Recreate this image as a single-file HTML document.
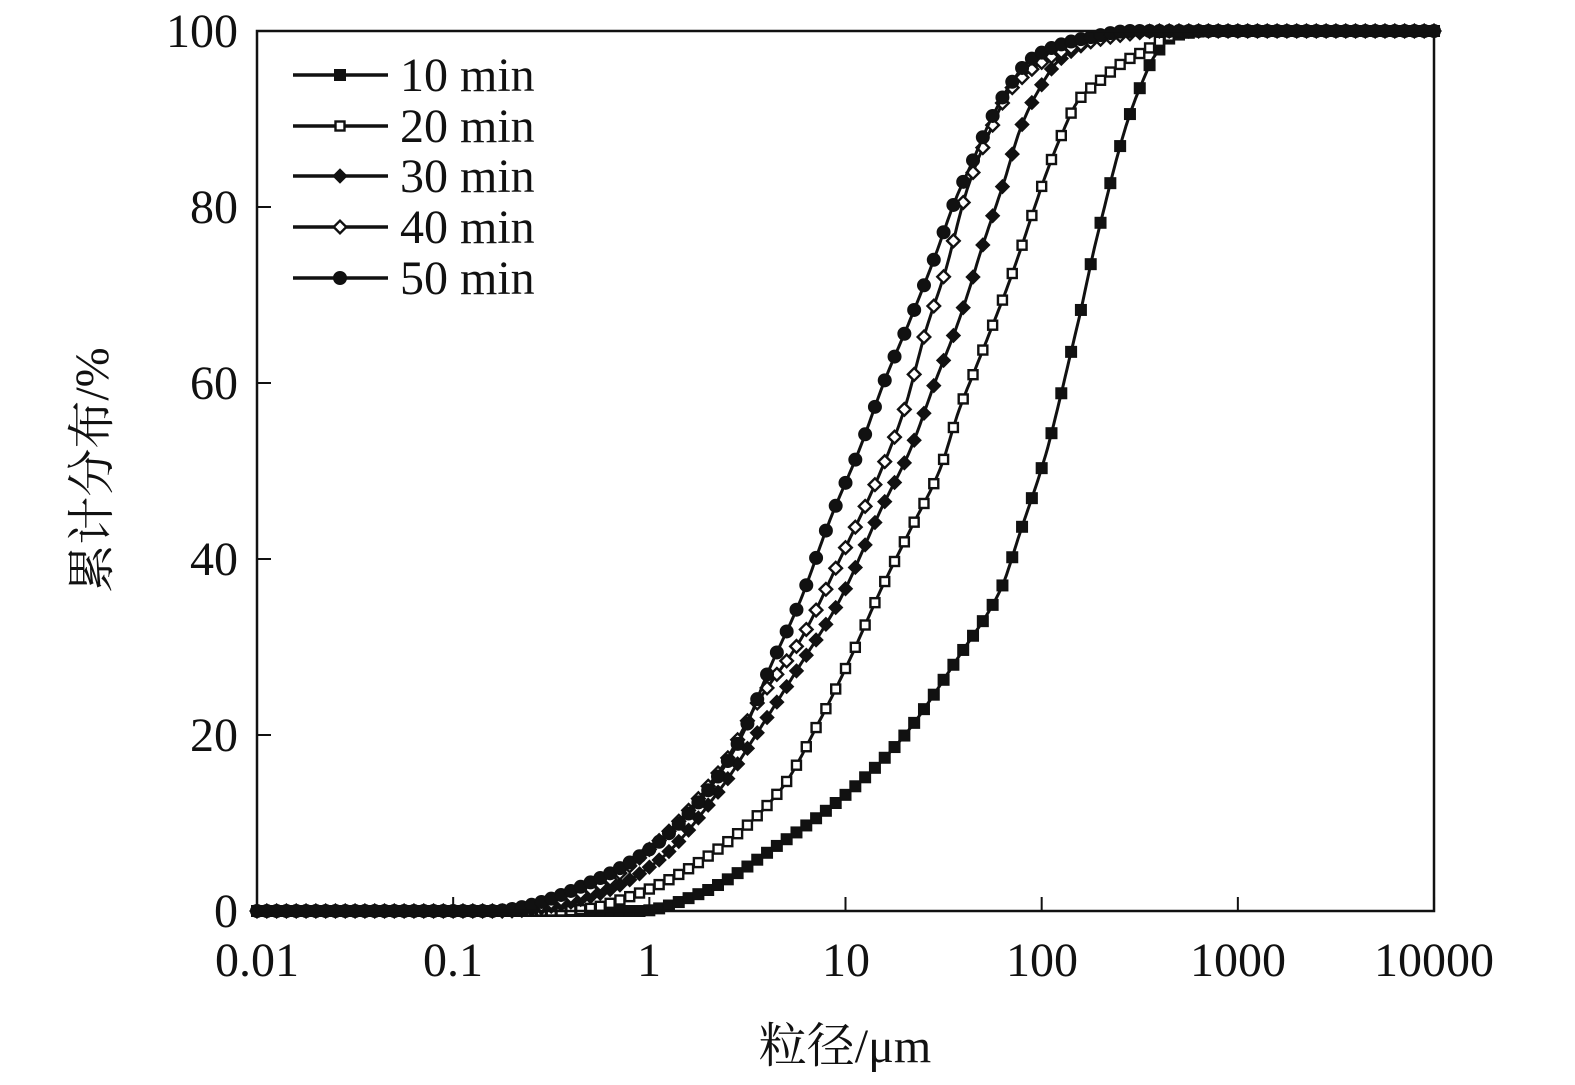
<!DOCTYPE html>
<html><head><meta charset="utf-8"><style>
html,body{margin:0;padding:0;background:#fff;}
svg{display:block;}
text{font-family:"Liberation Serif","Noto Serif CJK SC",serif;fill:#111;}
</style></head><body>
<svg id="s" width="1575" height="1085" xmlns="http://www.w3.org/2000/svg">
<rect width="1575" height="1085" fill="#fff"/>
<g id="plot"></g>
<rect x="257" y="31" width="1177" height="880" fill="none" stroke="#111" stroke-width="2.5"/>
<g font-size="48" text-anchor="end">
<text x="238" y="927">0</text><text x="238" y="751">20</text><text x="238" y="575">40</text><text x="238" y="399">60</text><text x="238" y="223">80</text><text x="238" y="47">100</text>
</g>
<g font-size="48" text-anchor="middle">
<text x="257" y="976">0.01</text><text x="453" y="976">0.1</text><text x="649" y="976">1</text><text x="846" y="976">10</text><text x="1042" y="976">100</text><text x="1238" y="976">1000</text><text x="1434" y="976">10000</text>
</g>
<text x="845" y="1062" font-size="48" text-anchor="middle">粒径/μm</text>
<text transform="translate(108,470) rotate(-90)" font-size="48" text-anchor="middle">累计分布/%</text>
<g id="leg" font-size="48">
<text x="400" y="91">10 min</text><text x="400" y="142">20 min</text><text x="400" y="192">30 min</text><text x="400" y="243">40 min</text><text x="400" y="294">50 min</text>
</g>
</svg>
<script>
var NS="http://www.w3.org/2000/svg";
function X(l){return 257+(l+2)*196.17;}
function Y(p){return 911-p*8.8;}
var C=[
{t:"sq",f:1,a:[[-0.3,0],[-0.05,0],[0.26,2],[0.67,7.7],[1.0,13.2],[1.28,19.4],[1.58,29],[1.79,36.5],[1.89,43],[2.02,51.8],[2.08,57],[2.14,62.6],[2.2,68.3],[2.26,74.5],[2.32,80],[2.38,85.3],[2.44,89.9],[2.5,93.5],[2.58,97.3],[2.68,99.5],[2.86,100]]},
{t:"sq",f:0,a:[[-0.45,0],[-0.3,0.3],[-0.15,1.25],[0.05,3],[0.36,7.2],[0.67,13.8],[0.87,21.7],[1.02,28.5],[1.18,36.5],[1.33,43.3],[1.48,50.1],[1.58,57],[1.66,61.5],[1.74,66],[1.82,70.6],[1.89,75],[1.96,79.7],[2.02,83.6],[2.09,87.6],[2.19,92.2],[2.3,94.4],[2.42,96.5],[2.53,97.8],[2.63,99.2],[2.73,100]]},
{t:"di",f:1,a:[[-0.7,0],[-0.56,0.3],[-0.25,2],[0.05,5.8],[0.36,13.8],[0.56,20.6],[0.77,28],[0.97,35.3],[1.18,45.6],[1.33,52.4],[1.46,60.3],[1.56,66],[1.63,70.6],[1.69,75],[1.75,79],[1.81,83],[1.89,88.8],[1.97,92.7],[2.09,96.7],[2.25,98.75],[2.45,99.8],[2.6,100]]},
{t:"di",f:0,a:[[-0.75,0],[-0.6,0.4],[-0.25,3],[0.05,8],[0.36,16],[0.56,24],[0.77,30.8],[0.97,39.9],[1.18,50],[1.3,57],[1.41,66],[1.51,72.8],[1.62,82],[1.74,88.8],[1.84,93.3],[2.02,96.7],[2.19,98.4],[2.4,99.5],[2.6,100]]},
{t:"ci",f:1,a:[[-0.8,0],[-0.66,0.4],[-0.25,3.75],[0,7],[0.26,12.6],[0.46,19.4],[0.61,27.4],[0.77,35.3],[0.92,44.4],[1.07,52.4],[1.2,60.3],[1.33,67.2],[1.45,74],[1.56,80.8],[1.65,85.3],[1.74,89.9],[1.84,93.9],[1.94,96.7],[2.09,98.4],[2.25,99.3],[2.45,100]]}
];
function prep(a){var n=a.length,d=[],m=[];for(var i=0;i<n-1;i++)d.push((a[i+1][1]-a[i][1])/(a[i+1][0]-a[i][0]));
m[0]=d[0];m[n-1]=d[n-2];for(var i=1;i<n-1;i++){if(d[i-1]*d[i]<=0)m[i]=0;else m[i]=2/(1/d[i-1]+1/d[i]);}
m[0]=0;m[n-1]=0;return m;}
function val(a,m,l){if(l<=a[0][0])return a[0][1];if(l>=a[a.length-1][0])return a[a.length-1][1];
for(var i=1;i<a.length;i++){if(l<=a[i][0]){var p=a[i-1],q=a[i],h=q[0]-p[0],t=(l-p[0])/h;
var h00=2*t*t*t-3*t*t+1,h10=t*t*t-2*t*t+t,h01=-2*t*t*t+3*t*t,h11=t*t*t-t*t;
return Math.max(0,Math.min(100,h00*p[1]+h10*h*m[i-1]+h01*q[1]+h11*h*m[i]));}}}
var g=document.getElementById("plot");
function mk(par,t,f,x,y){var e;
if(t=="sq"){e=document.createElementNS(NS,"rect");var r=f?5.5:4.5;e.setAttribute("x",x-r);e.setAttribute("y",y-r);e.setAttribute("width",2*r);e.setAttribute("height",2*r);}
else if(t=="di"){e=document.createElementNS(NS,"polygon");var r=f?7:6.3;e.setAttribute("points",(x)+","+(y-r)+" "+(x+r)+","+y+" "+x+","+(y+r)+" "+(x-r)+","+y);}
else{e=document.createElementNS(NS,"circle");e.setAttribute("cx",x);e.setAttribute("cy",y);e.setAttribute("r",6.5);}
e.setAttribute("fill",f?"#111":"#fff");e.setAttribute("stroke","#111");e.setAttribute("stroke-width",f?1:2.4);par.appendChild(e);}
C.forEach(function(c){var m=prep(c.a);var d="";for(var l=-2;l<=4.0001;l+=0.01){d+=(d?"L":"M")+X(l).toFixed(1)+","+Y(val(c.a,m,l)).toFixed(1);}
var p=document.createElementNS(NS,"path");p.setAttribute("d",d);p.setAttribute("fill","none");p.setAttribute("stroke","#111");p.setAttribute("stroke-width","3");g.appendChild(p);
for(var i=0;i<=120;i++){var l=-2+i*0.05;mk(g,c.t,c.f,X(l),Y(val(c.a,m,l)));}});
var leg=document.getElementById("leg");var ly=[75,126,176,227,278];
C.forEach(function(c,i){var p=document.createElementNS(NS,"line");p.setAttribute("x1",293);p.setAttribute("x2",388);p.setAttribute("y1",ly[i]);p.setAttribute("y2",ly[i]);p.setAttribute("stroke","#111");p.setAttribute("stroke-width","3.5");leg.appendChild(p);mk(leg,c.t,c.f,340,ly[i]);});
var s=document.getElementById("s");
for(var k=0;k<=6;k++){var x=257+k*196.17;var t=document.createElementNS(NS,"line");t.setAttribute("x1",x);t.setAttribute("x2",x);t.setAttribute("y1",911);t.setAttribute("y2",897);t.setAttribute("stroke","#111");t.setAttribute("stroke-width","2");s.appendChild(t);}
for(var k=1;k<5;k++){var y=911-k*176;var t=document.createElementNS(NS,"line");t.setAttribute("x1",257);t.setAttribute("x2",271);t.setAttribute("y1",y);t.setAttribute("y2",y);t.setAttribute("stroke","#111");t.setAttribute("stroke-width","2");s.appendChild(t);}
</script>
</body></html>
